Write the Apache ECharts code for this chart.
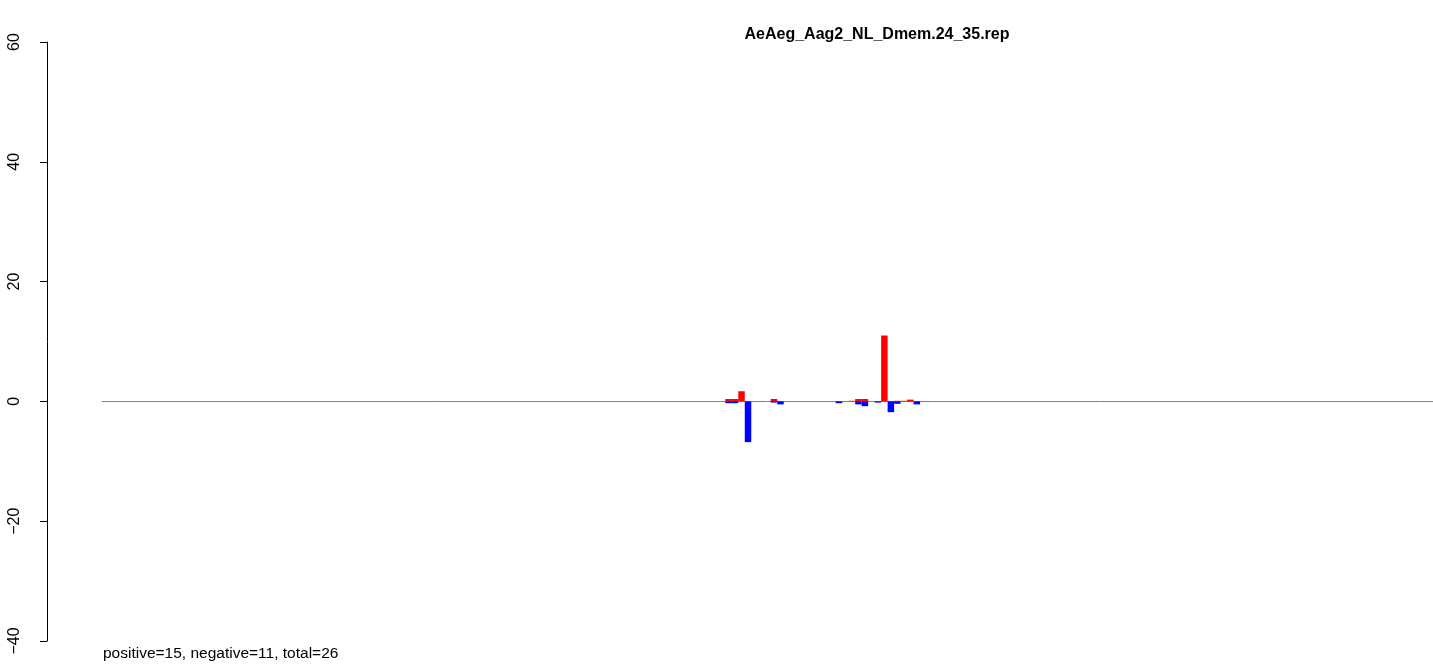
<!DOCTYPE html>
<html>
<head>
<meta charset="utf-8">
<script src="https://cdn.jsdelivr.net/npm/echarts@6/dist/echarts.min.js"></script>
<style>
html,body{margin:0;padding:0;background:#fff;}
#chart{width:1433px;height:666px;}
</style>
</head>
<body>
<div id="chart"></div>
<script>
// Data
var titleText = 'AeAeg_Aag2_NL_Dmem.24_35.rep';
var noteText = 'positive=15, negative=11, total=26';
var slotCount = 205;
var posSlots = [96, 97, 98, 103, 115, 116, 117, 120, 122, 123, 124];
var posValues = [0.4, 0.4, 1.7, 0.4, 0.1, 0.4, 0.4, 11.0, 0.1, 0.1, 0.3];
var negSlots = [96, 97, 99, 103, 104, 113, 116, 117, 119, 121, 122, 125];
var negValues = [-0.3, -0.3, -6.8, -0.2, -0.5, -0.3, -0.5, -0.8, -0.2, -1.8, -0.4, -0.5];
var yTicks = [-40, -20, 0, 20, 40, 60];

var categories = [];
var posData = [];
var negData = [];
for (var i = 0; i < slotCount; i++) { categories.push(String(i + 1)); posData.push(null); negData.push(null); }
posSlots.forEach(function (s, k) { posData[s] = posValues[k]; });
negSlots.forEach(function (s, k) { negData[s] = negValues[k]; });

var chart = echarts.init(document.getElementById('chart'), null, {renderer: 'canvas'});
var font = '"Liberation Sans", Arial, Helvetica, sans-serif';
chart.setOption({
  backgroundColor: '#ffffff',
  animation: false,
  title: [{
    text: titleText,
    left: 872, top: 22, textAlign: 'center',
    textStyle: {fontFamily: font, fontSize: 16, fontWeight: 'bold', color: '#000'}
  }],
  graphic: [{
    type: 'text', left: 103, top: 646,
    style: {text: noteText, fontFamily: font, fontSize: 15.5, fill: '#000'}
  }],
  grid: {left: 102, right: -1.5, top: 42, bottom: 25, containLabel: false},
  xAxis: {
    type: 'category', data: categories,
    axisLine: {show: true, onZero: true, lineStyle: {color: '#808080', width: 1}},
    axisTick: {show: false}, axisLabel: {show: false}, splitLine: {show: false}
  },
  yAxis: {
    type: 'value', min: yTicks[0], max: yTicks[yTicks.length - 1], interval: 20,
    position: 'left', offset: 55,
    axisLine: {show: true, lineStyle: {color: '#000', width: 1}},
    axisTick: {show: true, length: 7, lineStyle: {color: '#000'}},
    axisLabel: {
      rotate: 90, margin: 24, fontFamily: font, fontSize: 16, color: '#000',
      formatter: function (v) { return String(v).replace('-', '\u2212'); }
    },
    splitLine: {show: false}
  },
  series: [
    {type: 'bar', name: 'positive', data: posData, barGap: '-100%', barCategoryGap: 0,
     itemStyle: {color: '#ff0000'}},
    {type: 'bar', name: 'negative', data: negData, barGap: '-100%', barCategoryGap: 0,
     itemStyle: {color: '#0000ff'}}
  ]
});
</script>
</body>
</html>
